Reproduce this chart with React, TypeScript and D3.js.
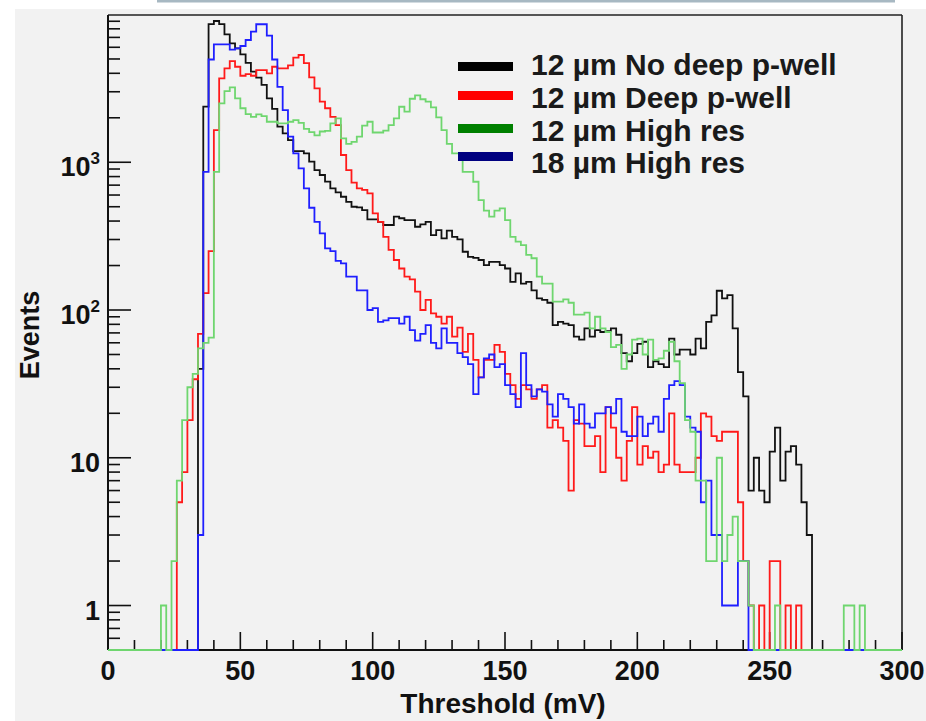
import React from 'react';
import * as d3 from 'd3';

// Threshold bins: 150 bins of 2 mV from 0 to 300 mV
const binWidthMV = 2;
const xTicksMajor = [0, 50, 100, 150, 200, 250, 300];
const yDecades = [1, 10, 100, 1000];
const yLabelExp = ['', '', '2', '3'];
const yLabelBase = ['1', '10', '10', '10'];

const seriesNames = ['12 µm No deep p-well', '12 µm Deep p-well', '12 µm High res', '18 µm High res'];

const blackNoDeep = [
  0, 0, 0, 0, 0, 0, 0, 0, 0, 0,
  0, 0, 0, 0, 0, 0, 0, 40, 2380, 8600,
  9040, 8600, 7340, 6380, 5900, 5380, 4700, 4100, 3740, 3340,
  2710, 2300, 1740, 1570, 1410, 1190, 1190, 1150, 1010, 885,
  820, 740, 665, 625, 584, 540, 500, 495, 475, 410,
  410, 395, 376, 376, 428, 418, 406, 406, 366, 380,
  395, 321, 347, 305, 345, 313, 301, 248, 229, 225,
  218, 201, 212, 212, 201, 191, 155, 177, 151, 155,
  136, 120, 117, 112, 79, 83, 81, 79, 66, 63,
  75, 66, 73, 71, 72, 75, 68, 51, 45, 51,
  59, 61, 41, 45, 43, 41, 64, 50, 54, 54,
  50, 64, 55, 83, 92, 135, 120, 126, 75, 38,
  26, 6, 10, 6, 5, 11, 16, 7, 11, 12,
  9, 5, 3, 0, 0, 0, 0, 0, 0, 0,
  0, 0, 0, 0, 0, 0, 0, 0, 0, 0,
];

const redDeep = [
  0, 0, 0, 0, 0, 0, 0, 0, 0, 0,
  0, 0, 0, 5, 8, 18, 34, 69, 130, 250,
  1650, 3700, 4320, 4840, 4430, 3850, 3950, 3850, 4200, 4200,
  4000, 4430, 4320, 4320, 4520, 5100, 5320, 4680, 3750, 3160,
  2570, 2320, 2030, 1785, 1120, 885, 727, 666, 650, 616,
  451, 395, 313, 255, 218, 191, 168, 161, 133, 100,
  117, 95, 90, 81, 90, 66, 76, 52, 69, 46,
  35, 46, 46, 58, 52, 37, 31, 25, 31, 29,
  25, 29, 31, 16, 18, 16, 13, 6, 18, 17,
  12, 12, 14, 8, 22, 16, 10, 7, 13, 22,
  9, 12, 10, 11, 8, 9, 20, 9, 8, 8,
  8, 10, 20, 19, 14, 13, 15, 15, 15, 5,
  2, 1, 0, 1, 0, 2, 2, 0, 1, 0,
  1, 0, 0, 0, 0, 0, 0, 0, 0, 0,
  0, 0, 0, 0, 0, 0, 0, 0, 0, 0,
];

const greenHighRes12 = [
  0, 0, 0, 0, 0, 0, 0, 0, 0, 0,
  1, 0, 2, 7, 18, 30, 37, 55, 60, 65,
  862, 2500, 3030, 3210, 2710, 2320, 2120, 2030, 2110, 2050,
  1880, 1880, 1835, 1835, 1880, 1930, 1850, 1680, 1600, 1520,
  1615, 1630, 1835, 1980, 1450, 1330, 1375, 1490, 1770, 1880,
  1590, 1590, 1635, 1785, 1980, 2375, 2200, 2690, 2840, 2670,
  2570, 2355, 2015, 1650, 1330, 1150, 1150, 860, 860, 738,
  555, 470, 428, 470, 488, 406, 313, 290, 275, 236,
  224, 168, 151, 151, 114, 114, 118, 112, 93, 93,
  96, 75, 90, 75, 71, 56, 58, 40, 50, 63,
  64, 50, 63, 46, 47, 53, 61, 45, 32, 18,
  15, 7, 7, 2, 2, 10, 2, 3, 4, 2,
  2, 1, 0, 0, 0, 0, 1, 0, 0, 0,
  0, 0, 0, 0, 0, 0, 0, 0, 0, 1,
  1, 0, 1, 0, 0, 0, 0, 0, 0, 0,
];

const blueHighRes18 = [
  0, 0, 0, 0, 0, 0, 0, 0, 0, 0,
  0, 0, 0, 0, 0, 0, 0, 3, 862, 4960,
  6280, 6280, 6280, 5780, 5900, 6120, 6720, 7660, 8590, 8590,
  7190, 4960, 3240, 2250, 1490, 1150, 910, 666, 492, 395,
  330, 261, 250, 215, 207, 168, 168, 136, 136, 100,
  103, 83, 85, 88, 88, 81, 90, 73, 62, 69,
  79, 60, 55, 75, 60, 60, 51, 48, 43, 27,
  35, 47, 50, 41, 43, 31, 27, 22, 51, 31,
  26, 29, 28, 23, 19, 27, 25, 22, 17, 23,
  17, 16, 20, 20, 22, 20, 25, 15, 14, 14,
  19, 14, 17, 19, 15, 25, 31, 33, 31, 19,
  16, 15, 5, 7, 3, 3, 1, 1, 1, 2,
  2, 0, 0, 0, 0, 0, 0, 0, 0, 0,
  0, 0, 0, 0, 0, 0, 0, 0, 0, 0,
  0, 0, 0, 0, 0, 0, 0, 0, 0, 0,
];

const W = 926;
const H = 721;
const FONT = "'Liberation Sans', Arial, Helvetica, sans-serif";

const xScale = d3.scaleLinear().domain([0, 300]).range([108, 902]);
const yScale = d3.scaleLog().domain([0.5, 10000]).range([650, 14.5]);

function histPath(vals: number[]): string {
  const pts: [number, number][] = vals.map((v, i) => [i * binWidthMV, v]);
  pts.push([vals.length * binWidthMV, vals[vals.length - 1]]);
  const line = d3
    .line<[number, number]>()
    .x((d) => xScale(d[0]))
    .y((d) => (d[1] > 0.5 ? yScale(d[1]) : yScale(0.5)))
    .curve(d3.curveStepAfter);
  return line(pts) || '';
}

export default function App() {
  const series = [
    { vals: blackNoDeep, color: '#111111' },
    { vals: redDeep, color: '#ff1a1a' },
    { vals: blueHighRes18, color: '#1f1fff' },
    { vals: greenHighRes12, color: '#6fd66f' },
  ];
  const legendColors = ['#000000', '#ff0000', '#008000', '#000080'];
  const legendY = [66.5, 95.5, 128.5, 156.5];
  const legendTextY = [75, 108, 141, 173];

  // minor y ticks
  const yMinor: number[] = [];
  [0.1, 1, 10, 100, 1000].forEach((dec) => {
    for (let k = 2; k <= 9; k++) {
      const v = dec * k;
      if (v >= 0.5 && v <= 10000 && v !== 1 && v !== 10 && v !== 100 && v !== 1000) yMinor.push(v);
    }
  });
  const xMinor = d3.range(0, 301, 10).filter((v) => v % 50 !== 0);

  return (
    <svg
      width={W}
      height={H}
      viewBox={`0 0 ${W} ${H}`}
      style={{ position: 'absolute', left: 0, top: 0, background: '#ffffff' }}
    >
      <defs>
        <clipPath id="frameClip">
          <rect x={108} y={13.5} width={794} height={638} />
        </clipPath>
      </defs>
      <rect x={15} y={9} width={W - 15} height={H - 9} fill="#f2f2f2" />
      <rect x={157} y={0} width={738} height={2.5} fill="#a7b8c2" />

      {/* frame */}
      <line x1={108} y1={15} x2={902} y2={15} stroke="#222" strokeWidth={1.6} />
      <line x1={902} y1={15} x2={902} y2={650} stroke="#222" strokeWidth={1.6} />

      {/* y axis ticks */}
      {yDecades.map((v) => (
        <line key={'ym' + v} x1={108} x2={131} y1={yScale(v)} y2={yScale(v)} stroke="#111" strokeWidth={1.6} />
      ))}
      {yMinor.map((v) => (
        <line key={'yn' + v} x1={108} x2={120} y1={yScale(v)} y2={yScale(v)} stroke="#111" strokeWidth={1.6} />
      ))}
      {/* x axis ticks */}
      {xTicksMajor.map((v) => (
        <line key={'xm' + v} x1={xScale(v)} x2={xScale(v)} y1={650} y2={632} stroke="#111" strokeWidth={1.6} />
      ))}
      {xMinor.map((v) => (
        <line key={'xn' + v} x1={xScale(v)} x2={xScale(v)} y1={650} y2={640} stroke="#111" strokeWidth={1.6} />
      ))}
      <line x1={108} y1={15} x2={108} y2={650} stroke="#111" strokeWidth={2} />
      <line x1={108} y1={650} x2={902} y2={650} stroke="#111" strokeWidth={2} />

      {/* histograms */}
      <g clipPath="url(#frameClip)" fill="none">
        {series.map((s, i) => (
          <path key={i} d={histPath(s.vals)} stroke={s.color} strokeWidth={1.8} strokeLinejoin="miter" />
        ))}
      </g>

      {/* tick labels */}
      <g fontFamily={FONT} fontWeight="bold" fill="#111">
        {xTicksMajor.map((v) => (
          <text key={'xl' + v} x={xScale(v)} y={680} fontSize={27} textAnchor="middle">
            {v}
          </text>
        ))}
        {yDecades.map((v, i) => (
          <text key={'yl' + v} x={100} y={yScale(v) + 14} fontSize={27} textAnchor="end">
            {yLabelBase[i]}
            {yLabelExp[i] && (
              <tspan fontSize={17} dy={-12}>
                {yLabelExp[i]}
              </tspan>
            )}
          </text>
        ))}
        <text x={503} y={713} fontSize={28} textAnchor="middle">
          Threshold (mV)
        </text>
        <text transform="translate(39,335) rotate(-90)" fontSize={27} textAnchor="middle">
          Events
        </text>
      </g>

      {/* legend */}
      <g fontFamily={FONT} fontWeight="bold" fill="#1a1a1a">
        {seriesNames.map((name, i) => (
          <g key={name}>
            <rect x={458} y={legendY[i] - 4.5} width={55} height={9} fill={legendColors[i]} />
            <text x={531} y={legendTextY[i]} fontSize={30}>
              {name}
            </text>
          </g>
        ))}
      </g>
    </svg>
  );
}
